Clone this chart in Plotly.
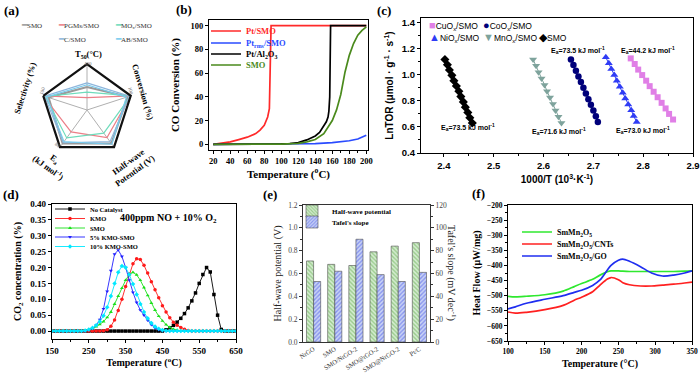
import plotly.graph_objects as go

W, H = 700, 373


def fx(p):
    return p / W


def fy(p):
    return 1 - p / H


SERIF = "Liberation Serif"
SANS = "Liberation Sans"

# ---------------- data ----------------
# (a) radar, normalised radial values
radar_axes = ["T50", "Conversion", "Half-wave potential", "Ea", "Selectivity"]
radar_smo = [0.50, 0.93, 0.90, 0.90, 0.88]
radar_pgms = [0.27, 1.00, 0.74, 0.59, 1.00]
radar_mox = [0.39, 1.00, 0.62, 0.75, 0.95]
radar_c = [0.59, 0.97, 0.85, 0.88, 0.97]
radar_ab = [0.55, 0.90, 0.92, 0.85, 0.92]

# (b) CO conversion
b_ptsmo_T = [20, 30, 40, 50, 60, 70, 75, 80, 84, 86, 87, 88, 100, 120, 140, 160, 180, 200]
b_ptsmo_y = [0, 0.8, 2, 4, 6, 9, 12, 16, 23, 30, 60, 100, 100, 100, 100, 100, 100, 100]
b_ptrms_T = [20, 60, 100, 120, 140, 160, 170, 180, 190, 200]
b_ptrms_y = [0, 0, 0, 0.2, 0.6, 1.4, 2.1, 3.0, 4.5, 7.6]
b_ptal_T = [20, 60, 100, 110, 120, 130, 140, 145, 150, 153, 155, 156, 157, 158, 160, 180, 200]
b_ptal_y = [0, 0, 0.3, 0.7, 1.4, 3.7, 7, 10, 15, 19, 23, 28, 40, 100, 100, 100, 100]
b_smo_T = [20, 60, 100, 120, 130, 140, 150, 160, 165, 170, 175, 180, 185, 190, 195, 200]
b_smo_y = [0, 0, 0.2, 0.8, 2, 4, 9, 20, 29, 42, 61, 75, 85, 92, 96, 99]

# (c) Arrhenius plots
c_cu_x = [2.775, 2.783, 2.790, 2.798, 2.806, 2.813, 2.821, 2.829, 2.837, 2.845, 2.852, 2.860]
c_cu_y = [1.126, 1.083, 1.040, 0.998, 0.955, 0.913, 0.870, 0.828, 0.785, 0.742, 0.700, 0.657]
c_co_x = [2.655, 2.660, 2.665, 2.670, 2.675, 2.680, 2.685, 2.690, 2.695, 2.700, 2.705, 2.709]
c_co_y = [1.118, 1.075, 1.031, 0.988, 0.944, 0.900, 0.857, 0.813, 0.770, 0.726, 0.682, 0.638]
c_ni_x = [2.725, 2.731, 2.736, 2.742, 2.747, 2.753, 2.759, 2.764, 2.770, 2.776, 2.781, 2.787]
c_ni_y = [1.134, 1.089, 1.044, 0.999, 0.954, 0.909, 0.863, 0.818, 0.773, 0.728, 0.683, 0.638]
c_mn_x = [2.579, 2.585, 2.590, 2.596, 2.602, 2.607, 2.613, 2.619, 2.624, 2.630, 2.636]
c_mn_y = [1.118, 1.069, 1.020, 0.971, 0.922, 0.874, 0.825, 0.776, 0.727, 0.679, 0.630]
c_smo_x = [2.402, 2.407, 2.411, 2.416, 2.420, 2.425, 2.430, 2.434, 2.439, 2.443, 2.448, 2.452, 2.457]
c_smo_y = [1.118, 1.077, 1.037, 0.996, 0.955, 0.914, 0.874, 0.833, 0.792, 0.752, 0.711, 0.670, 0.630]
c_ea_labels = ["73.5", "73.5", "44.2", "71.6", "73.0"]
c_ea_x = [2.448, 2.669, 2.810, 2.631, 2.800]
c_ea_y = [0.598, 1.190, 1.190, 0.567, 0.575]

# (d) CO2 concentration
d_T = [150, 160, 170, 180, 190, 200, 210, 220, 230, 240, 250, 260, 270, 280, 290, 300, 310, 320,
       330, 340, 350, 360, 370, 380, 390, 400, 410, 420, 430, 440, 450, 460, 470, 480, 490, 500,
       510, 520, 530, 540, 550, 560, 570, 580, 590, 600, 610, 620, 630, 640, 650]
d_nocat = [0, 0, 0, 0, 0, 0, 0, 0, 0, 0, 0, 0, 0, 0, 0, 0, 0, 0, 0, 0, 0, 0, 0, 0, 0, 0, 0, 0,
           0, 0, 0, 0.004, 0.01, 0.018, 0.028, 0.04, 0.055, 0.073, 0.095, 0.12, 0.15, 0.178,
           0.2, 0.186, 0.115, 0.05, 0.005, 0, 0, 0, 0]
d_kmo = [0, 0, 0, 0, 0, 0, 0, 0, 0, 0, 0, 0, 0, 0, 0.001, 0.004, 0.015, 0.035, 0.065, 0.1, 0.14,
         0.18, 0.212, 0.228, 0.225, 0.207, 0.183, 0.155, 0.13, 0.105, 0.08, 0.06, 0.042, 0.028,
         0.018, 0.011, 0.006, 0.002, 0, 0, 0, 0, 0, 0, 0, 0, 0, 0, 0, 0, 0]
d_smo = [0, 0, 0, 0, 0, 0, 0, 0, 0, 0.002, 0.005, 0.009, 0.014, 0.021, 0.03, 0.043, 0.06, 0.085,
         0.11, 0.135, 0.16, 0.178, 0.185, 0.177, 0.16, 0.137, 0.112, 0.088, 0.066, 0.047, 0.032,
         0.02, 0.012, 0.006, 0.003, 0.001, 0, 0, 0, 0, 0, 0, 0, 0, 0, 0, 0, 0, 0, 0, 0]
d_kmo5 = [0, 0, 0, 0, 0, 0, 0, 0, 0, 0, 0.003, 0.008, 0.018, 0.036, 0.07, 0.125, 0.19, 0.242,
          0.255, 0.235, 0.2, 0.16, 0.122, 0.09, 0.066, 0.05, 0.034, 0.02, 0.01, 0.004, 0.001,
          0, 0, 0, 0, 0, 0, 0, 0, 0, 0, 0, 0, 0, 0, 0, 0, 0, 0, 0, 0]
d_kmo10 = [0, 0, 0, 0, 0, 0, 0, 0, 0, 0.002, 0.005, 0.01, 0.018, 0.03, 0.048, 0.075, 0.11, 0.15,
           0.185, 0.205, 0.2, 0.178, 0.148, 0.115, 0.085, 0.06, 0.04, 0.025, 0.014, 0.007, 0.003,
           0.001, 0, 0, 0, 0, 0, 0, 0, 0, 0, 0, 0, 0, 0, 0, 0, 0, 0, 0, 0]

# (e) ORR bars
e_cats = ["NrGO", "SMO", "SMO/NrGO-2", "SMO@rGO-2", "SMO@NrGO-2", "Pt/C"]
e_halfwave = [0.71, 0.68, 0.67, 0.79, 0.84, 0.87]
e_tafel = [53, 62, 90, 59, 53, 61]

# (f) DSC heat flow
f_T = [100, 110, 125, 150, 175, 190, 200, 215, 225, 235, 240, 250, 256, 265, 280, 295, 310, 325, 340, 350]
f_smmn = [-502, -504, -502, -497, -485, -470, -460, -446, -432, -421, -418, -418, -419, -420,
          -420, -420, -420, -420, -419, -418]
f_cnts = [-554, -558, -555, -546, -532, -515, -505, -487, -465, -445, -440, -447, -457, -464,
          -468, -468, -465, -462, -458, -455]
f_go = [-544, -537, -525, -512, -500, -489, -482, -466, -448, -415, -400, -383, -379, -386,
        -404, -425, -435, -432, -425, -418]

fig = go.Figure()

# ---------------- (a) radar ----------------
radar_series = [
    ("SMO", radar_smo, "#9a9a9a", 2.2),
    ("PGMs/SMO", radar_pgms, "#ec7f88", 1.2),
    ("MOx/SMO", radar_mox, "#6fdcbc", 1.2),
    ("C/SMO", radar_c, "#8db6dc", 1.2),
    ("AB/SMO", radar_ab, "#78cbee", 1.2),
]
for name, vals, col, w in radar_series:
    fig.add_trace(go.Scatterpolar(
        r=vals + vals[:1], theta=radar_axes + radar_axes[:1], mode="lines",
        line=dict(color=col, width=w), name=name, showlegend=False, subplot="polar"))

# ---------------- (b) ----------------
b_series = [
    ("Pt/SMO", b_ptsmo_T, b_ptsmo_y, "#ff2a2a", "legend"),
    ("Pt<sub>rms</sub>/SMO", b_ptrms_T, b_ptrms_y, "#2a4bff", "legend2"),
    ("Pt/Al<sub>2</sub>O<sub>3</sub>", b_ptal_T, b_ptal_y, "#000000", "legend3"),
    ("SMO", b_smo_T, b_smo_y, "#4a8a1c", "legend4"),
]
for name, xs, ys, col, lg in b_series:
    fig.add_trace(go.Scatter(
        x=xs, y=ys, mode="lines", line=dict(color=col, width=1.7),
        name=f"<span style='color:{col}'>{name}</span>", xaxis="x", yaxis="y", legend=lg))

# ---------------- (c) ----------------
c_series = [
    ("CuO<sub>x</sub>/SMO", c_cu_x, c_cu_y, "#e07fe6", "square", 6),
    ("CoO<sub>x</sub>/SMO", c_co_x, c_co_y, "#00007a", "circle", 6.5),
    ("NiO<sub>x</sub>/SMO", c_ni_x, c_ni_y, "#2f3cf5", "triangle-up", 7),
    ("MnO<sub>x</sub>/SMO", c_mn_x, c_mn_y, "#7ea39c", "triangle-down", 7),
    ("SMO", c_smo_x, c_smo_y, "#000000", "diamond", 7),
]
for name, xs, ys, col, sym, sz in c_series:
    fig.add_trace(go.Scatter(
        x=xs, y=ys, mode="lines+markers", line=dict(color=col, width=1),
        marker=dict(symbol=sym, size=sz, color=col), name=name, showlegend=False,
        xaxis="x2", yaxis="y2"))

# ---------------- (d) ----------------
d_series = [
    ("No Catalyst", d_nocat, "#000000", "square", "legend5"),
    ("KMO", d_kmo, "#ff1a1a", "circle", "legend6"),
    ("SMO", d_smo, "#19e019", "triangle-up", "legend7"),
    ("5% KMO-SMO", d_kmo5, "#2020ff", "triangle-down", "legend8"),
    ("10% KMO-SMO", d_kmo10, "#00e8ff", "diamond", "legend9"),
]
for name, ys, col, sym, lg in d_series:
    fig.add_trace(go.Scatter(
        x=d_T, y=ys, mode="lines+markers", line=dict(color=col, width=0.9),
        marker=dict(symbol=sym, size=3.5, color=col), name=name,
        xaxis="x3", yaxis="y3", legend=lg))

# ---------------- (e) ----------------
fig.add_trace(go.Bar(
    x=e_cats, y=e_halfwave, name="Half-wave potential", xaxis="x4", yaxis="y4",
    offsetgroup="hw", legend="legend10",
    marker=dict(color="#cfeac0", line=dict(color="#4d4d4d", width=0.6),
                pattern=dict(shape="\\", fgcolor="#5faa48", bgcolor="#d4ecd0", size=3, solidity=0.45))))
fig.add_trace(go.Bar(
    x=e_cats, y=e_tafel, name="Tafel's slope", xaxis="x4", yaxis="y5",
    offsetgroup="tf", legend="legend11",
    marker=dict(color="#c4cdf6", line=dict(color="#4d4d4d", width=0.6),
                pattern=dict(shape="/", fgcolor="#4655e8", bgcolor="#c9d3f5", size=3, solidity=0.45))))

# ---------------- (f) ----------------
f_series = [
    ("SmMn<sub>2</sub>O<sub>5</sub>", f_smmn, "#2fe82f", "legend12"),
    ("SmMn<sub>2</sub>O<sub>5</sub>/CNTs", f_cnts, "#ff2020", "legend13"),
    ("SmMn<sub>2</sub>O<sub>5</sub>/GO", f_go, "#1f2ef0", "legend14"),
]
for name, ys, col, lg in f_series:
    fig.add_trace(go.Scatter(
        x=f_T, y=ys, mode="lines", line=dict(color=col, width=1.7, shape="spline", smoothing=0.8),
        name=name, xaxis="x6", yaxis="y6", legend=lg))


# ---------------- layout ----------------
def font(family, size, bold=True, color="black"):
    return dict(family=family, size=size, color=color, weight="bold" if bold else "normal")


def ax_common(family, size, bold=True, color="black", lw=1.2):
    return dict(showline=True, linecolor="black", linewidth=lw, mirror=True, showgrid=False,
                zeroline=False, ticks="outside", ticklen=3, tickwidth=1, tickcolor="black",
                automargin=False, tickfont=font(family, size, bold, color))


layout = dict(
    width=W, height=H, margin=dict(l=0, r=0, t=0, b=0, autoexpand=False),
    paper_bgcolor="white", plot_bgcolor="white",
    barmode="group", bargap=0.33, bargroupgap=0.0,
    polar=dict(
        domain=dict(x=[fx(41), fx(133)], y=[fy(156), fy(64)]),
        bgcolor="rgba(0,0,0,0)", gridshape="linear",
        radialaxis=dict(range=[0, 1], showticklabels=False, ticks="", showgrid=False, showline=False),
        angularaxis=dict(direction="clockwise", rotation=90, showticklabels=False, ticks="",
                         showgrid=True, gridcolor="#b0b0b0", gridwidth=0.6,
                         linecolor="#111111", linewidth=2.2),
    ),
    # (b)
    xaxis=dict(domain=[fx(209), fx(368)], anchor="y", range=[15, 202],
               tickvals=[20, 40, 60, 80, 100, 120, 140, 160, 180, 200],
               minor=dict(ticks="outside", ticklen=2, tickvals=[30, 50, 70, 90, 110, 130, 150, 170, 190]),
               title=dict(text="Temperature (<sup>o</sup>C)", font=font(SERIF, 11), standoff=4),
               **ax_common(SERIF, 8.5)),
    yaxis=dict(domain=[fy(150), fy(20)], anchor="x", range=[-4.8, 104.8],
               tickvals=[0, 20, 40, 60, 80, 100],
               title=dict(text="CO Conversion (%)", font=font(SERIF, 11), standoff=8),
               **ax_common(SERIF, 8.5)),
    # (c)
    xaxis2=dict(domain=[fx(421), fx(693)], anchor="y2", range=[2.354, 2.9],
                tickvals=[2.4, 2.5, 2.6, 2.7, 2.8, 2.9], tickformat=".1f",
                minor=dict(ticks="outside", ticklen=2, tickvals=[2.45, 2.55, 2.65, 2.75, 2.85]),
                title=dict(text="1000/T (10<sup>3</sup>·K<sup>-1</sup>)", font=font(SANS, 10), standoff=6),
                **ax_common(SANS, 9.5)),
    yaxis2=dict(domain=[fy(153), fy(18)], anchor="x2", range=[0.4, 1.436],
                tickvals=[0.4, 0.6, 0.8, 1.0, 1.2, 1.4], tickformat=".1f",
                minor=dict(ticks="outside", ticklen=2, tickvals=[0.5, 0.7, 0.9, 1.1, 1.3]),
                title=dict(text="LnTOR (μmol · g<sup>-1</sup> · s<sup>-1</sup>)", font=font(SANS, 10), standoff=6),
                **ax_common(SANS, 9.5)),
    # (d)
    xaxis3=dict(domain=[fx(52), fx(236)], anchor="y3", range=[150, 650],
                tickvals=[150, 250, 350, 450, 550, 650],
                minor=dict(ticks="outside", ticklen=2, tickvals=[200, 300, 400, 500, 600]),
                title=dict(text="Temperature (<sup>o</sup>C)", font=font(SERIF, 10), standoff=4),
                **ax_common(SERIF, 9)),
    yaxis3=dict(domain=[fy(339), fy(204)], anchor="x3", range=[-0.025, 0.40],
                tickvals=[0, 0.05, 0.10, 0.15, 0.20, 0.25, 0.30, 0.35, 0.40], tickformat=".2f",
                title=dict(text="CO<sub>2</sub> concentration (%)", font=font(SERIF, 10), standoff=6),
                **ax_common(SERIF, 9)),
    # (e)
    xaxis4=dict(domain=[fx(303), fx(430)], anchor="y4", type="category", tickangle=-32,
                showline=True, linecolor="#333", linewidth=1, mirror=True, showgrid=False,
                automargin=False, ticks="", ticklen=0, tickfont=font(SERIF, 6.5, False, "#333")),
    yaxis4=dict(domain=[fy(342), fy(205)], anchor="x4", range=[0, 1.2],
                tickvals=[0, 0.2, 0.4, 0.6, 0.8, 1.0, 1.2], tickformat=".1f",
                minor=dict(ticks="outside", ticklen=2, tickvals=[0.1, 0.3, 0.5, 0.7, 0.9, 1.1]),
                title=dict(text="Half-wave potential (V)", font=font(SERIF, 10, False, "#222"), standoff=4),
                showline=True, linecolor="#333", linewidth=1, showgrid=False, zeroline=False,
                automargin=False,
                ticks="outside", ticklen=3, tickcolor="#333", tickfont=font(SERIF, 7.5, False, "#444")),
    yaxis5=dict(overlaying="y4", side="right", anchor="x4", range=[0, 120],
                tickvals=[0, 20, 40, 60, 80, 100, 120],
                minor=dict(ticks="outside", ticklen=2, tickvals=[10, 30, 50, 70, 90, 110]),
                showline=True, linecolor="#333", linewidth=1, showgrid=False, zeroline=False,
                automargin=False,
                ticks="outside", ticklen=3, tickcolor="#333", tickfont=font(SERIF, 7.5, False, "#444")),
    # (f)
    xaxis6=dict(domain=[fx(508), fx(692)], anchor="y6", range=[100, 350],
                tickvals=[100, 150, 200, 250, 300, 350],
                minor=dict(ticks="outside", ticklen=2, tickvals=[125, 175, 225, 275, 325]),
                title=dict(text="Temperature (°C)", font=font(SERIF, 10), standoff=4),
                **ax_common(SERIF, 7.5)),
    yaxis6=dict(domain=[fy(341), fy(205)], anchor="x6", range=[-650, -200],
                tickvals=[-650, -600, -550, -500, -450, -400, -350, -300, -250, -200],
                minor=dict(ticks="outside", ticklen=2, tickvals=[-625, -575, -525, -475, -425, -375, -325, -275, -225]),
                title=dict(text="Heat Flow (μW/mg)", font=font(SERIF, 10), standoff=4),
                **ax_common(SERIF, 7.5)),
)


def leg(x_left, y_center, family, size, bold=True):
    return dict(x=fx(x_left), y=fy(y_center), xanchor="left", yanchor="middle",
                bgcolor="rgba(0,0,0,0)", borderwidth=0, itemwidth=30, tracegroupgap=0,
                font=font(family, size, bold))


legend_pos = {
    "legend": (206, 31, SERIF, 8.5), "legend2": (206, 43, SERIF, 8.5),
    "legend3": (206, 54, SERIF, 8.5), "legend4": (206, 65, SERIF, 8.5),
    "legend5": (50, 209, SERIF, 6.5), "legend6": (50, 218.5, SERIF, 6.5),
    "legend7": (50, 228, SERIF, 6.5), "legend8": (50, 237, SERIF, 6.5),
    "legend9": (50, 246.5, SERIF, 6.5),
    "legend10": (292, 211, SERIF, 7), "legend11": (292, 222, SERIF, 7),
    "legend12": (517, 232, SERIF, 8), "legend13": (517, 244, SERIF, 8),
    "legend14": (517, 256, SERIF, 8),
}
for k, (xl, yc, fam, sz) in legend_pos.items():
    layout[k] = leg(xl, yc, fam, sz)

ann = []


def A(text, x, y, size, family=SERIF, bold=True, color="black", angle=0, xanchor="center", yanchor="middle"):
    ann.append(dict(text=text, x=fx(x), y=fy(y), xref="paper", yref="paper", showarrow=False,
                    font=font(family, size, bold, color), textangle=angle,
                    xanchor=xanchor, yanchor=yanchor))


# panel labels
for lab, x, y in [("(a)", 11, 10), ("(b)", 184, 9), ("(c)", 384, 10),
                  ("(d)", 11, 194), ("(e)", 270, 194), ("(f)", 478, 193)]:
    A(lab, x, y, 13)

# (a) legend (text + coloured line glyph)
for (name, _, col, _), (x, y) in zip(radar_series, [(19, 25), (56, 25), (113, 25), (56, 39), (113, 39)]):
    label = name.replace("MOx", "MO<sub>x</sub>")
    A(f"<span style='color:{col};font-size:9px'>━</span>{label}", x, y, 7,
      bold=False, color="#333", xanchor="left")

# (a) axis labels
A("T<sub>50</sub>(°C)", 88, 55, 8.5)
A("400", 88, 63, 5, bold=False, color="#666")
A("Conversion (%)", 143, 92, 8.5, angle=74)
A("100", 130, 91, 5, bold=False, color="#666", angle=74)
A("Half-wave<br>Potential (V)", 131, 166, 8.5, angle=-36)
A("E<sub>a</sub><br>(kJ mol<sup>-1</sup>)", 52, 163, 8.5, angle=36)
A("80", 58, 145, 5, bold=False, color="#666", angle=36)
A("Selectivity (%)", 25, 88, 8.5, angle=-72)
A("100", 43, 91, 5, bold=False, color="#666", angle=-72)

# (c) legend
for (name, _, _, col, sym, _), (x, y) in zip(
        c_series, [(427, 25), (481, 25), (427, 37.5), (481, 37.5), (537, 37.5)]):
    glyph = {"square": "■", "circle": "●", "triangle-up": "▲", "triangle-down": "▼", "diamond": "◆"}[sym]
    A(f"<span style='color:{col};font-size:11px'>{glyph}</span>{name}", x, y, 8.5,
      family=SANS, bold=False, xanchor="left")

# (c) activation energies
for lab, xv, yv in zip(c_ea_labels, c_ea_x, c_ea_y):
    ann.append(dict(text=f"E<sub>a</sub>={lab} kJ mol<sup>-1</sup>", x=xv, y=yv, xref="x2", yref="y2",
                    showarrow=False, font=font(SANS, 7)))

# (d) condition note
A("400ppm NO + 10% O<sub>2</sub>", 168, 219, 10)

# (e) right axis title
A("Tafel's slope (mV dec<sup>-1</sup>)", 452, 273, 10, bold=False, color="#222", angle=90)

layout["annotations"] = ann
fig.update_layout(**layout)
# remove the browser's default 8px page margin so the figure fills the window exactly
fig.write_html("out.html", config={"displayModeBar": False},
               post_script="document.body.style.margin='0';")
